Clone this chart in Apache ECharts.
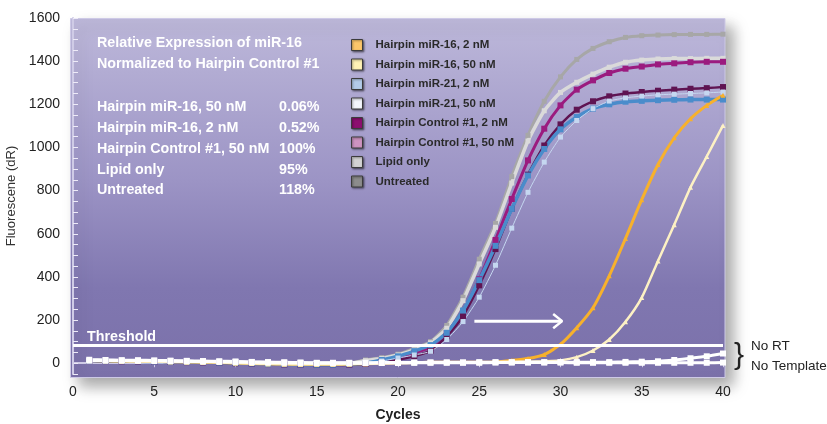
<!DOCTYPE html>
<html><head><meta charset="utf-8">
<script src="https://cdn.jsdelivr.net/npm/echarts@6/dist/echarts.min.js"></script>
<style>html,body{margin:0;padding:0;background:#fff}#c{width:827px;height:424px}</style>
</head><body><div id="c"></div>
<script>
const cycles = [1,2,3,4,5,6,7,8,9,10,11,12,13,14,15,16,17,18,19,20,21,22,23,24,25,26,27,28,29,30,31,32,33,34,35,36,37,38,39,40];
const untreated = [14,13,12,11,10,9,8,7,6,4,2,0,-2,-3,-4,-3,0,15,26,42,69,100,175,306,482,648,865,1056,1214,1327,1408,1459,1490,1510,1518,1521,1523,1524,1524,1525];
const lipidOnly = [13,12,11,10,9,8,7,6,5,3,1,-1,-3,-4,-5,-4,-1,12,22,38,62,95,162,290,460,630,835,1030,1170,1255,1302,1340,1372,1395,1405,1410,1412,1412,1413,1413];
const ctrl2 = [12,11,10,9,8,7,6,5,3,1,-1,-3,-5,-6,-7,-7,-6,-1,12,27,48,75,140,242,389,571,761,940,1087,1195,1268,1311,1345,1365,1375,1385,1390,1395,1397,1397];
const ctrl50 = [11,10,9,8,7,6,5,4,2,0,-2,-4,-6,-7,-8,-8,-7,-3,6,16,33,58,125,219,361,529,715,874,1009,1107,1175,1214,1237,1250,1257,1263,1268,1272,1275,1280];
const mir21_2 = [12,11,10,9,8,7,6,5,3,1,-1,-3,-5,-6,-7,-7,-5,0,15,32,56,84,141,244,385,544,715,870,993,1084,1141,1180,1200,1212,1216,1219,1221,1222,1222,1222];
const mir21_50 = [11,10,9,8,7,6,5,4,3,1,-1,-3,-5,-6,-6,-6,-5,-1,10,24,38,55,110,193,306,454,626,792,932,1048,1125,1180,1215,1230,1238,1244,1247,1250,1253,1257];
const mir16_2 = [12,11,10,9,8,7,6,5,3,1,-1,-3,-4,-5,-5,-5,-4,-2,0,2,3,4,4,5,5,6,13,22,40,87,164,257,405,578,758,921,1045,1133,1195,1242];
const mir16_50 = [12,11,10,9,8,7,6,5,3,1,-1,-3,-4,-5,-5,-5,-4,-2,0,2,3,3,4,4,5,5,6,7,9,13,28,59,110,192,304,474,642,815,958,1102];
const noRT = [16,15,14,14,13,12,11,10,9,8,6,5,4,3,2,2,2,2,3,3,3,4,4,4,5,5,5,5,5,5,5,5,5,6,7,9,15,23,32,45];
const noTemplate = [12,12,12,11,11,10,9,8,7,6,5,4,3,2,1,1,1,1,1,1,2,2,2,2,2,3,3,3,3,3,2,2,2,2,2,2,2,2,2,3];
const threshold = 83;
const arrowShaft = [[24.7,195],[30.1,195]];
const arrowHead = [[29.55,228],[30.1,195],[29.55,162]];
const yLabels = [0,200,400,600,800,1000,1200,1400,1600];
const yMinorTicks = [-50,0,50,100,150,200,250,300,350,400,450,500,550,600,650,700,750,800,850,900,950,1000,1050,1100,1150,1200,1250,1300,1350,1400,1450,1500,1550,1600];
const legendNames = ['Hairpin miR-16, 2 nM','Hairpin miR-16, 50 nM','Hairpin miR-21, 2 nM','Hairpin miR-21, 50 nM','Hairpin Control #1, 2 nM','Hairpin Control #1, 50 nM','Lipid only','Untreated'];
const legendColors = ['#fcc66a','#fff2b5','#b3cbe8','#f4f6fc','#8c0f6f','#cd93c0','#d2d2d2','#8c8c8c'];
const statTitle = ['Relative Expression of miR-16','Normalized to Hairpin Control #1'];
const statLabels = ['Hairpin miR-16, 50 nM','Hairpin miR-16, 2 nM','Hairpin Control #1, 50 nM','Lipid only','Untreated'];
const statValues = ['0.06%','0.52%','100%','95%','118%'];

const FONT = '"Liberation Sans", Arial, sans-serif';
const pairs = arr => cycles.map((c,i)=>[c, arr[i]]);

const curveDefs = [
  {name:'Untreated', data:untreated, color:'#a7a7a7', width:3, sym:'rect', size:5},
  {name:'Lipid only', data:lipidOnly, color:'#dadada', width:3.5, sym:'rect', size:5},
  {name:'Hairpin Control #1, 2 nM', data:ctrl2, color:'#9b1b7f', width:3, sym:'rect', size:6},
  {name:'Hairpin Control #1, 50 nM', data:ctrl50, color:'#5f1452', width:2.5, sym:'rect', size:6},
  {name:'Hairpin miR-21, 2 nM', data:mir21_2, color:'#4a8ccb', width:3.5, sym:'rect', size:6},
  {name:'Hairpin miR-21, 50 nM', data:mir21_50, color:'#c5d7f0', width:1, sym:'rect', size:5},
  {name:'Hairpin miR-16, 2 nM', data:mir16_2, color:'#f7b12c', width:3, sym:'triangle', size:5},
  {name:'Hairpin miR-16, 50 nM', data:mir16_50, color:'#fdf1c4', width:2.5, sym:'triangle', size:5},
  {name:'No RT', data:noRT, color:'#ffffff', width:3, sym:'rect', size:6},
  {name:'No Template', data:noTemplate, color:'#ffffff', width:3, sym:'rect', size:6}
];

const series = curveDefs.map(d => ({
  type:'line', name:d.name, data:pairs(d.data), smooth:0.2,
  symbol:d.sym, symbolSize:d.size, showSymbol:true,
  itemStyle:{color:d.color}, lineStyle:{color:d.color, width:d.width},
  emphasis:{disabled:true}, silent:true
}));
series[series.length-1].markLine = {
  silent:true, symbol:['none','none'],
  lineStyle:{color:'#ffffff', width:3, type:'solid'},
  label:{show:true, position:'insideStartTop', formatter:'Threshold', color:'#ffffff', fontWeight:'bold', fontSize:14.3, fontFamily:FONT, distance:[14,1]},
  data:[{yAxis:threshold}]
};
series.push({type:'line', name:'arrow', data:arrowShaft, symbol:'none', lineStyle:{color:'#fff', width:3}, itemStyle:{color:'#fff'}, silent:true});
series.push({type:'line', name:'arrowhead', data:arrowHead, symbol:'none', lineStyle:{color:'#fff', width:2.5}, itemStyle:{color:'#fff'}, silent:true});

const graphics = [];
graphics.push({type:'rect', z:-10, silent:true, shape:{x:70.5, y:18.5, width:654.5, height:359},
  style:{fill:new echarts.graphic.LinearGradient(0,0,0,1,[
    {offset:0,color:'#bdb8da'},{offset:0.45,color:'#9c94c5'},{offset:0.75,color:'#8077b0'},{offset:1,color:'#7b71aa'}]),
    stroke:'#cdc9e6', lineWidth:1, shadowBlur:14, shadowOffsetX:8, shadowOffsetY:8, shadowColor:'rgba(0,0,0,0.35)'}});
statTitle.forEach((t,i)=>graphics.push({type:'text', z:10, silent:true, left:97, top:36.5+i*20.3,
  style:{text:t, fill:'#fff', font:'bold 14.3px '+FONT}}));
statLabels.forEach((t,i)=>{
  graphics.push({type:'text', z:10, silent:true, left:97, top:100.5+i*20.7, style:{text:t, fill:'#fff', font:'bold 14.3px '+FONT}});
  graphics.push({type:'text', z:10, silent:true, left:279, top:100.5+i*20.7, style:{text:statValues[i], fill:'#fff', font:'bold 14.3px '+FONT}});
});
graphics.push({type:'text', z:10, silent:true, left:734, top:341, style:{text:'}', fill:'#222', font:'30px '+FONT}});
graphics.push({type:'text', z:10, silent:true, left:751, top:339, style:{text:'No RT', fill:'#222', font:'13.5px '+FONT}});
graphics.push({type:'text', z:10, silent:true, left:751, top:359, style:{text:'No Template', fill:'#222', font:'13.5px '+FONT}});

const chart = echarts.init(document.getElementById('c'), null, {renderer:'canvas'});
chart.setOption({
  animation:false,
  textStyle:{fontFamily:FONT},
  grid:{left:73, right:104, top:18, bottom:50, containLabel:false, outerBoundsMode:'none'},
  xAxis:{type:'value', min:0, max:40, interval:5,
    axisLine:{show:true, lineStyle:{color:'#cfcbe6', width:2}},
    axisTick:{show:true, inside:false, length:4, lineStyle:{color:'#cfcbe6', width:1}},
    axisLabel:{color:'#222', fontSize:14, margin:11, fontFamily:FONT},
    splitLine:{show:false},
    name:'Cycles', nameLocation:'middle', nameGap:34,
    nameTextStyle:{color:'#222', fontSize:14, fontWeight:'bold', fontFamily:FONT}},
  yAxis:{type:'value', min:-50, max:1600,
    axisLine:{show:true, lineStyle:{color:'#cfcbe6', width:2}},
    axisTick:{show:true, inside:true, length:5, customValues:yMinorTicks, lineStyle:{color:'#eeebf8', width:1}},
    axisLabel:{color:'#222', fontSize:14, margin:13, customValues:yLabels, fontFamily:FONT, formatter:v=>String(v)},
    splitLine:{show:false},
    name:'Fluorescene (dR)', nameLocation:'middle', nameRotate:90, nameGap:45,
    nameTextStyle:{color:'#333', fontSize:13, fontFamily:FONT}},
  legend:{orient:'vertical', left:351, top:38, padding:0, itemWidth:11, itemHeight:11, itemGap:5.5, icon:'rect', selectedMode:false,
    textStyle:{fontSize:11.5, fontWeight:'bold', color:'#2a2a2a', lineHeight:14, padding:[0,0,0,8], fontFamily:FONT},
    data:legendNames.map((n,i)=>({name:n, itemStyle:{color:legendColors[i], borderColor:'#3c3c3c', borderWidth:1, shadowBlur:2, shadowColor:'rgba(0,0,0,0.45)', shadowOffsetX:1, shadowOffsetY:1}}))},
  graphic:graphics,
  series:series
});
</script></body></html>
